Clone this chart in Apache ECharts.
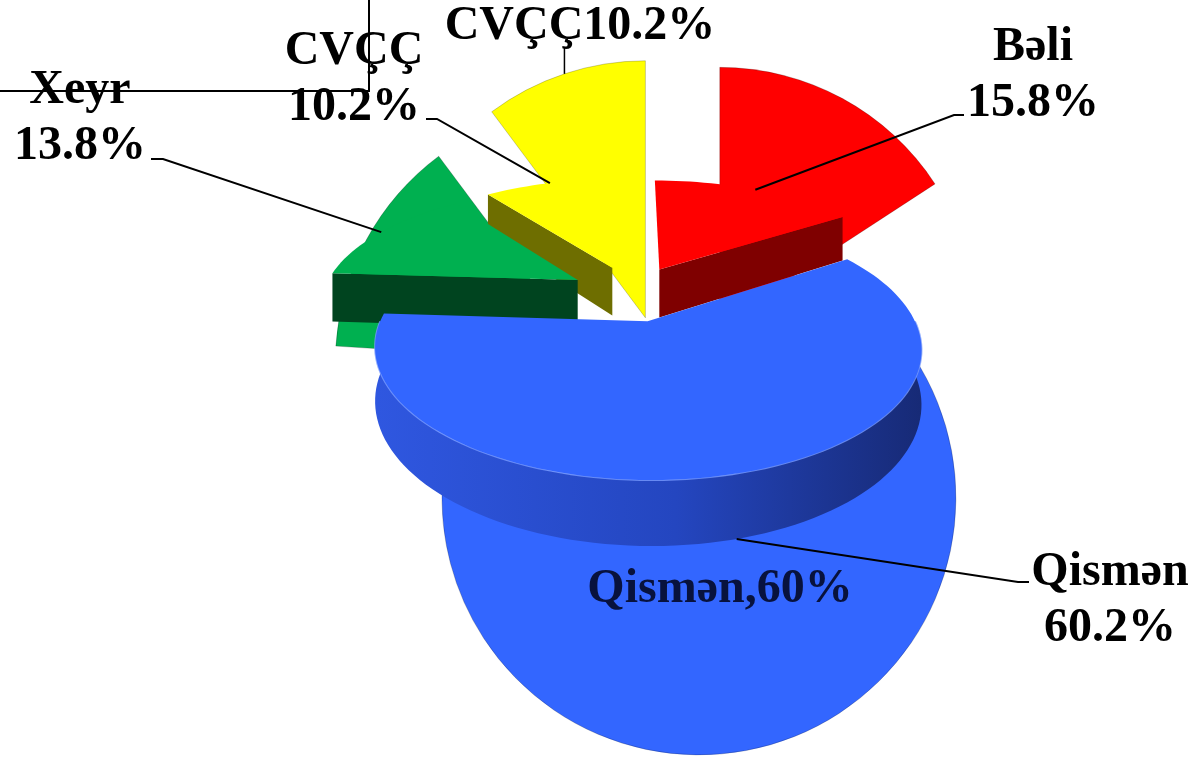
<!DOCTYPE html>
<html>
<head>
<meta charset="utf-8">
<script src="https://cdn.jsdelivr.net/npm/echarts@6/dist/echarts.min.js"></script>
<style>
html, body { margin: 0; padding: 0; background: #fff; }
#chart { width: 1193px; height: 760px; }
</style>
</head>
<body>
<div id="chart"></div>
<script>
// front (3D) pie
const names = ['Bəli', 'Qismən', 'Xeyr', 'CVÇÇ']
const values = [15.8, 60.2, 13.8, 10.2]
const labelTexts = ['Bəli\n15.8%', 'Qismən\n60.2%', 'Xeyr\n13.8%', 'CVÇÇ\n10.2%']
// back (flat) pie
const backValues = [15.8, 60.2, 13.8, 10.2]
const backLabels = ['', 'Qismən,60%', '', 'CVÇÇ10.2%']

const topColors = ['#ff0000', '#3366ff', '#00b050', '#ffff00']
const wallColors = ['#7f0000', '#2446c0', '#00441f', '#6e6e00']

// where the front labels sit: text centre x,y, leader bend x,y, leader end x,y
const frontLabelPos = [
	[1033, 76, 954, 115, 964, 115],
	[1110, 601, 1018, 582, 1029, 582],
	[80, 119, 163, 159, 151, 159],
	[354, 80, 437, 119, 426, 119],
]
// text centres for the back pie labels
const backLabelPos = [null, [720, 590], null, [580, 27]]

const FONT = '"Liberation Serif", "Times New Roman", serif'
const RAD = Math.PI / 180

// flat pie behind
const back = { cx: 675, cy: 407, r: 257, offset: 94 }
// 3D pie geometry (screen px)
const pie = { cx: 631, cy: 293, R: 255, k: 0.45, D: 1300, h: 50, explode: 62 }

const sweep = (vals) => {
	const total = vals.reduce((s, v) => s + v, 0)
	const spans = vals.map((v) => (v / total) * 360)
	const starts = spans.map((s, i) => spans.slice(0, i).reduce((a, b) => a + b, 0))
	return { spans, starts, mids: starts.map((s, i) => s + spans[i] / 2) }
}
const { spans, starts, mids } = sweep(values)
const backMids = sweep(backValues).mids
// farther slices are drawn first
const rank = mids.map((m) => mids.filter((o) => Math.cos(o * RAD) > Math.cos(m * RAD)).length)

const project = (X, Z, down) => {
	const p = pie.D / (pie.D + Z)
	return [pie.cx + X * p, pie.cy - Z * pie.k * p + down * p]
}

const poly = (points, fill, z2) => ({
	type: 'polygon',
	shape: { points },
	style: { fill, stroke: null },
	z2,
})

const textEl = (x, y, text, fill, z2) => ({
	type: 'text',
	x,
	y,
	style: {
		text,
		fontFamily: FONT,
		fontWeight: 'bold',
		fontSize: 48,
		lineHeight: 56,
		fill,
		align: 'center',
		verticalAlign: 'middle',
	},
	z2,
})

const renderSlice = (params, api) => {
	const i = params.dataIndex
	const a0 = starts[i]
	const a1 = a0 + spans[i]
	const mid = mids[i] * RAD
	const ox = pie.explode * Math.sin(mid)
	const oz = pie.explode * Math.cos(mid)
	const pt = (deg, r, down) => project(ox + r * Math.sin(deg * RAD), oz + r * Math.cos(deg * RAD), down)
	const arc = (from, to, down) => {
		const n = Math.max(2, Math.ceil((to - from) / 2))
		const pts = []
		for (let j = 0; j <= n; j++) pts.push(pt(from + ((to - from) * j) / n, pie.R, down))
		return pts
	}
	const z = rank[i] * 10
	const cTop = pt(0, 0, 0)
	const cBot = pt(0, 0, pie.h)
	const children = []

	// radial side faces that look toward the viewer
	if (Math.sin(a0 * RAD) < -0.02) {
		children.push(poly([cTop, pt(a0, pie.R, 0), pt(a0, pie.R, pie.h), cBot], wallColors[i], z + 1))
	}
	if (Math.sin(a1 * RAD) > 0.02) {
		children.push(poly([cTop, pt(a1, pie.R, 0), pt(a1, pie.R, pie.h), cBot], wallColors[i], z + 1))
	}
	// outer curved wall, front half only
	const f0 = Math.max(a0, 90)
	const f1 = Math.min(a1, 270)
	if (f1 > f0) {
		const top = arc(f0, f1, 0)
		const bot = arc(f0, f1, pie.h).reverse()
		children.push(
			poly(
				top.concat(bot),
				new echarts.graphic.LinearGradient(0, 0, 1, 0, [
					{ offset: 0, color: '#2f57e0' },
					{ offset: 0.55, color: '#2446c0' },
					{ offset: 1, color: '#172a76' },
				]),
				z + 2
			)
		)
		children.push({
			type: 'polyline',
			shape: { points: top },
			style: { stroke: 'rgba(120,155,255,0.8)', lineWidth: 2, fill: null },
			z2: z + 2,
		})
	}
	// top face
	children.push(poly([cTop].concat(arc(a0, a1, 0)), topColors[i], z + 3))

	// label + leader line
	const lp = frontLabelPos[i]
	const anchor = Math.cos(mid) > 0 ? pt(mids[i], pie.R, 0) : pt(mids[i], pie.R, pie.h)
	children.push({
		type: 'polyline',
		shape: { points: [anchor, [lp[2], lp[3]], [lp[4], lp[5]]] },
		style: { stroke: '#000', lineWidth: 2, fill: null },
		z2: 100,
	})
	children.push(textEl(lp[0], lp[1], labelTexts[i], '#000', 101))
	return { type: 'group', children }
}

// labels of the flat pie
const renderBackLabel = (params, api) => {
	const i = params.dataIndex
	const pos = backLabelPos[i]
	if (!pos) return null
	const m = backMids[i] * RAD
	if (i === 1) return textEl(pos[0], pos[1], backLabels[i], '#08123d', 1)
	const ax = back.cx + (back.offset + back.r) * Math.sin(m)
	const ay = back.cy - (back.offset + back.r) * Math.cos(m)
	return {
		type: 'group',
		children: [
			{
				type: 'polyline',
				shape: { points: [[ax, ay], [ax, ay - 26]] },
				style: { stroke: '#000', lineWidth: 1.5, fill: null },
			},
			textEl(pos[0], pos[1], backLabels[i], '#000', 1),
		],
	}
}

const chart = echarts.init(document.getElementById('chart'))
chart.setOption({
	animation: false,
	backgroundColor: '#fff',
	series: [
		{
			type: 'pie',
			z: 2,
			center: [back.cx, back.cy],
			radius: back.r,
			startAngle: 90,
			clockwise: true,
			selectedMode: 'multiple',
			selectedOffset: back.offset,
			silent: true,
			emphasis: { disabled: true },
			itemStyle: { borderColor: 'rgba(0,0,0,0.2)', borderWidth: 1 },
			label: { show: false },
			labelLine: { show: false },
			data: backValues.map((v, i) => ({
				value: v,
				name: names[i],
				selected: true,
				itemStyle: { color: topColors[i] },
			})),
		},
		{
			type: 'custom',
			z: 3,
			coordinateSystem: 'none',
			silent: true,
			renderItem: renderBackLabel,
			data: backValues.map((v, i) => ({ value: v, name: names[i] })),
		},
		{
			type: 'custom',
			z: 5,
			coordinateSystem: 'none',
			silent: true,
			renderItem: renderSlice,
			data: values.map((v, i) => ({ value: v, name: names[i] })),
		},
	],
	graphic: [
		{
			type: 'polyline',
			z: 20,
			shape: { points: [[0, 91], [369, 91], [369, 0]] },
			style: { stroke: '#000', lineWidth: 2, fill: null },
		},
	],
})
</script>
</body>
</html>
